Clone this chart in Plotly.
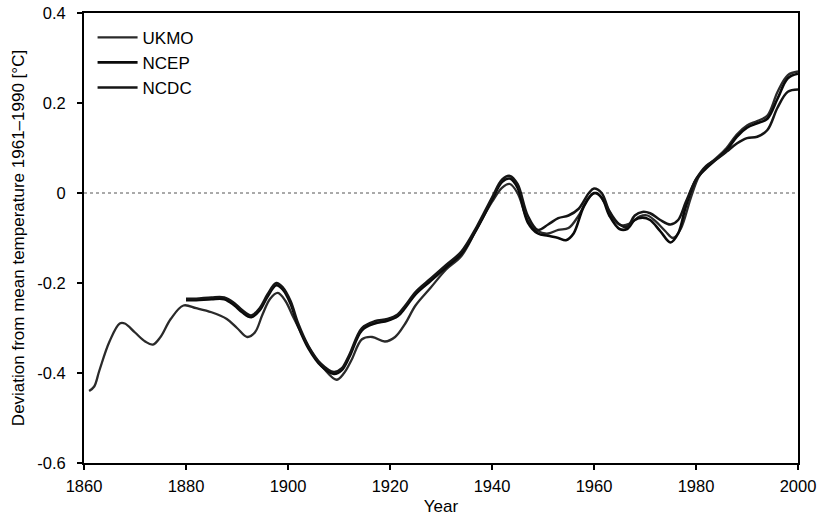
import plotly.graph_objects as go

# Smoothed global temperature anomalies (deviation from 1961-1990 mean, °C)
ukmo_years = [1861, 1862, 1863, 1865, 1867, 1868, 1870, 1872, 1873.5, 1875, 1877, 1879.5,
              1882, 1885, 1888, 1890, 1892, 1893.5, 1895, 1896.5, 1898, 1899.5, 1901, 1903,
              1905, 1907, 1909.5, 1911, 1912.5, 1914.5, 1916.5, 1919, 1921, 1923, 1925, 1928,
              1931, 1934, 1937, 1940, 1942, 1943.5, 1945, 1947, 1949, 1951, 1953, 1955, 1957,
              1959, 1960.5, 1962, 1964, 1965.5, 1967, 1969, 1970.5, 1972, 1974, 1975.5, 1977,
              1979, 1980.5, 1982, 1984, 1986, 1988, 1990, 1992, 1994, 1996, 1998, 2000]
ukmo = [-0.44, -0.43, -0.395, -0.33, -0.29, -0.29, -0.31, -0.33, -0.337, -0.32, -0.28, -0.25,
        -0.256, -0.265, -0.28, -0.30, -0.32, -0.31, -0.27, -0.235, -0.222, -0.24, -0.275, -0.32,
        -0.36, -0.39, -0.415, -0.40, -0.37, -0.325, -0.32, -0.33, -0.32, -0.29, -0.25, -0.21,
        -0.17, -0.14, -0.08, -0.02, 0.012, 0.02, 0.0, -0.06, -0.085, -0.09, -0.082, -0.078, -0.05,
        -0.01, 0.0, -0.02, -0.06, -0.072, -0.068, -0.052, -0.05, -0.062, -0.085, -0.1, -0.08,
        -0.01, 0.035, 0.058, 0.078, 0.1, 0.13, 0.15, 0.16, 0.172, 0.225, 0.262, 0.27]

ncdc_years = [1880, 1882, 1885, 1887.5, 1889.5, 1891, 1892.8, 1894.5, 1896, 1897.7, 1899,
              1900.5, 1902, 1904, 1906.5, 1909, 1910.5, 1912, 1914.5, 1917, 1919.5, 1921.5,
              1923, 1925, 1928, 1931, 1934, 1937, 1940, 1942, 1943.5, 1945, 1947, 1949, 1951,
              1953, 1955, 1957, 1959, 1960, 1961.5, 1963, 1965, 1966.5, 1968, 1969.5, 1971,
              1973, 1975, 1976.5, 1978, 1980, 1982, 1984, 1986, 1988, 1990, 1992, 1994, 1996,
              1998, 2000]
ncdc = [-0.235, -0.235, -0.232, -0.232, -0.245, -0.26, -0.272, -0.255, -0.225, -0.2, -0.21,
        -0.24, -0.29, -0.34, -0.38, -0.398, -0.39, -0.36, -0.30, -0.285, -0.28, -0.27,
        -0.25, -0.22, -0.19, -0.16, -0.13, -0.075, -0.01, 0.03, 0.038, 0.02, -0.05, -0.082, -0.07,
        -0.056, -0.05, -0.035, 0.0, 0.01, 0.0, -0.04, -0.07, -0.075, -0.05, -0.042, -0.045,
        -0.06, -0.07, -0.06, -0.02, 0.03, 0.06, 0.075, 0.092, 0.11, 0.122, 0.125, 0.14, 0.19,
        0.225, 0.23]

ncep_years = [1880, 1882, 1885, 1887.5, 1889.5, 1891, 1892.8, 1894.5, 1896, 1897.7, 1899,
              1900.5, 1902, 1904, 1906.5, 1909, 1910.5, 1912, 1914.5, 1917, 1919.5, 1921.5,
              1923, 1925, 1928, 1931, 1934, 1937, 1940, 1942, 1943.5, 1945, 1947, 1949, 1951,
              1953, 1954.5, 1956, 1958, 1960, 1961.5, 1963, 1965, 1966.5, 1968, 1969.5, 1971,
              1973, 1975, 1976.5, 1978, 1980, 1982, 1984, 1986, 1988, 1990, 1992, 1994, 1996,
              1998, 2000]
ncep = [-0.238, -0.238, -0.236, -0.236, -0.25, -0.265, -0.276, -0.26, -0.23, -0.205, -0.215,
        -0.246, -0.296, -0.345, -0.384, -0.402, -0.394, -0.365, -0.305, -0.29, -0.284, -0.274,
        -0.255, -0.225, -0.195, -0.165, -0.135, -0.08, -0.015, 0.025, 0.032, 0.012, -0.065, -0.09,
        -0.095, -0.1, -0.105, -0.09, -0.03, 0.0, -0.01, -0.05, -0.08, -0.08, -0.06, -0.055, -0.06,
        -0.085, -0.11, -0.09, -0.03, 0.03, 0.055, 0.075, 0.095, 0.125, 0.145, 0.155, 0.165, 0.21,
        0.255, 0.265]

x_ticks = [1860, 1880, 1900, 1920, 1940, 1960, 1980, 2000]
y_ticks = [-0.6, -0.4, -0.2, 0, 0.2, 0.4]
y_tick_text = ["-0.6", "-0.4", "-0.2", "0", "0.2", "0.4"]

FONT = "Liberation Sans, Arial, sans-serif"

fig = go.Figure()
fig.add_trace(go.Scatter(x=ukmo_years, y=ukmo, name="UKMO", mode="lines",
                         line=dict(color="#2a2a2a", width=2.3, shape="spline", smoothing=1.0)))
fig.add_trace(go.Scatter(x=ncep_years, y=ncep, name="NCEP", mode="lines",
                         line=dict(color="#0a0a0a", width=2.6, shape="spline", smoothing=1.0)))
fig.add_trace(go.Scatter(x=ncdc_years, y=ncdc, name="NCDC", mode="lines",
                         line=dict(color="#151515", width=2.5, shape="spline", smoothing=1.0)))

# dotted zero reference line
fig.add_hline(y=0, line=dict(color="#555555", width=1, dash="dot"), layer="below")

axis_common = dict(
    showgrid=False, zeroline=False, showline=True, linecolor="black", linewidth=1.8,
    mirror=True, ticks="outside", ticklen=5, tickwidth=1.5, tickcolor="black",
    tickfont=dict(family=FONT, size=16.5, color="black"), automargin=False,
)

fig.update_xaxes(range=[1860, 2000], tickvals=x_ticks, ticklabeloverflow="allow",
                 title=dict(text="Year", font=dict(family=FONT, size=17, color="black"), standoff=6),
                 ticklabelstandoff=2, **axis_common)
fig.update_yaxes(range=[-0.6, 0.4], tickvals=y_ticks, ticktext=y_tick_text,
                 ticklabeloverflow="allow",
                 title=dict(text="Deviation from mean temperature 1961–1990 [°C]",
                            font=dict(family=FONT, size=17, color="black"), standoff=8),
                 ticklabelstandoff=8, **axis_common)

fig.update_layout(
    width=818, height=520,
    margin=dict(l=84, r=20, t=13, b=57),
    paper_bgcolor="white", plot_bgcolor="white",
    font=dict(family=FONT, size=17, color="black"),
    showlegend=True,
    legend=dict(x=0.012, y=0.985, xanchor="left", yanchor="top",
                bgcolor="rgba(0,0,0,0)", borderwidth=0,
                font=dict(family=FONT, size=17, color="black"),
                itemwidth=40, tracegroupgap=0),
)

fig.write_html("out.html")
